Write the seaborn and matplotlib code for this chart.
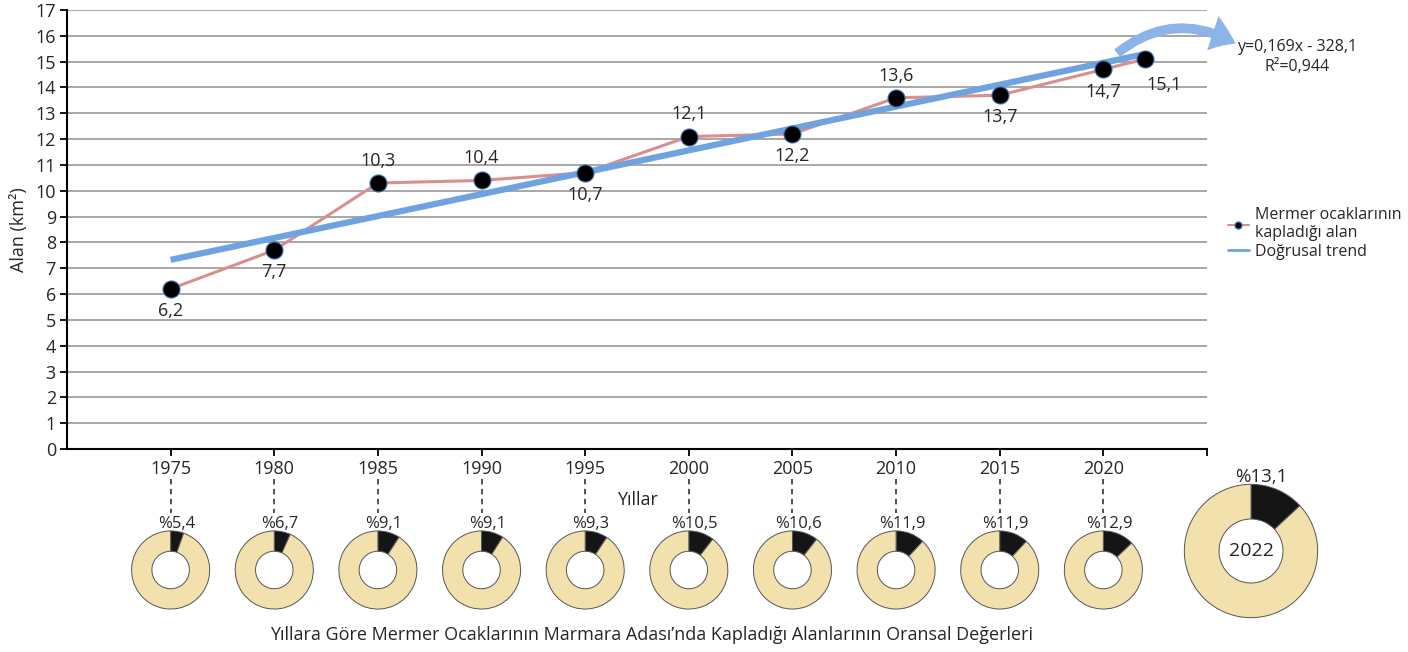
import matplotlib
matplotlib.use("Agg")
import matplotlib.pyplot as plt
import seaborn as sns
import pandas as pd
from matplotlib.lines import Line2D
from matplotlib.patches import FancyArrowPatch
from matplotlib import transforms

# data
years = [1975, 1980, 1985, 1990, 1995, 2000, 2005, 2010, 2015, 2020, 2022]
area = [6.2, 7.7, 10.3, 10.4, 10.7, 12.1, 12.2, 13.6, 13.7, 14.7, 15.1]
area_labels = ["6,2", "7,7", "10,3", "10,4", "10,7", "12,1", "12,2", "13,6", "13,7", "14,7", "15,1"]
label_above = [False, False, True, True, False, True, False, True, False, False, False]
share = [5.4, 6.7, 9.1, 9.1, 9.3, 10.5, 10.6, 11.9, 11.9, 12.9, 13.1]
share_labels = ["%5,4", "%6,7", "%9,1", "%9,1", "%9,3", "%10,5", "%10,6", "%11,9", "%11,9", "%12,9", "%13,1"]
tick_years = [1975, 1980, 1985, 1990, 1995, 2000, 2005, 2010, 2015, 2020, 2025]

df = pd.DataFrame({"Yıl": years, "Alan": area})

sns.set_style("white")
plt.rcParams["font.family"] = ["Open Sans", "DejaVu Sans"]

W, H = 1408, 652
fig = plt.figure(figsize=(W / 100, H / 100), dpi=100)
ax = fig.add_axes([67 / W, 1 - 449 / H, (1207 - 67) / W, (449 - 10) / H])

red = "#d98f8c"
blue = "#6fa3e0"
fs = 13

sns.lineplot(data=df, x="Yıl", y="Alan", color=red, lw=2.2, ax=ax, zorder=2)
sns.regplot(data=df, x="Yıl", y="Alan", scatter=False, ci=None, truncate=True,
            line_kws=dict(color=blue, lw=4.5, zorder=3, solid_capstyle="butt"), ax=ax)
sns.scatterplot(data=df, x="Yıl", y="Alan", color="black", s=150,
                edgecolor="#3a6fb0", linewidth=0.8, zorder=4, ax=ax)

for x, y, lab, up in zip(years, area, area_labels, label_above):
    if x == 2022:
        ax.annotate(lab, (x, y), xytext=(14, -19), textcoords="offset points",
                    ha="center", va="center", fontsize=fs)
    else:
        ax.annotate(lab, (x, y), xytext=(0, 16 if up else -16), textcoords="offset points",
                    ha="center", va="center", fontsize=fs)

ax.set_xlim(1970, 2025)
ax.set_ylim(0, 17)
ax.set_yticks(range(0, 18))
ax.set_xticks(tick_years)
ax.set_xticklabels([str(t) if t < 2025 else "" for t in tick_years])
ax.grid(axis="y", color="#a0a0a0", lw=1.3)
ax.grid(axis="x", visible=False)
ax.tick_params(axis="both", length=5, width=1.3, color="black", labelsize=fs, pad=3)
ax.tick_params(axis="y", left=True, direction="out")
ax.tick_params(axis="x", bottom=True, direction="out")
for s in ["top", "right"]:
    ax.spines[s].set_visible(False)
for s in ["left", "bottom"]:
    ax.spines[s].set_color("black")
    ax.spines[s].set_linewidth(1.5)
ax.set_ylabel("Alan (km²)", fontsize=fs, labelpad=5)
ax.set_xlabel("Yıllar", fontsize=fs, labelpad=9)

# legend
handles = [
    Line2D([], [], color=red, lw=1.5, marker="o", markersize=5, markerfacecolor="black",
           markeredgecolor="#3a6fb0"),
    Line2D([], [], color=blue, lw=2),
]
fig.legend(handles, ["Mermer ocaklarının\nkapladığı alan", "Doğrusal trend"],
           loc="upper left", bbox_to_anchor=(1220 / W, 1 - 199 / H), frameon=False,
           fontsize=11.5, handlelength=1.3, handletextpad=0.4, labelspacing=0.15, borderpad=0)

# trend equation with curved arrow
fig.text(1297 / W, 1 - 47 / H, "y=0,169x - 328,1", ha="center", va="center", fontsize=11.5)
fig.text(1297 / W, 1 - 67 / H, "R²=0,944", ha="center", va="center", fontsize=11.5)
arrow = FancyArrowPatch((1115 / W, 1 - 55 / H), (1238 / W, 1 - 45 / H),
                        transform=fig.transFigure, connectionstyle="arc3,rad=-0.35",
                        arrowstyle="simple,head_length=0.9,head_width=1.3,tail_width=0.35",
                        mutation_scale=20, color="#8cb4e8", lw=0)
fig.patches.append(arrow)

# dashed connectors from year labels to donuts
blend = transforms.blended_transform_factory(ax.transData, fig.transFigure)
for y in years[:-1]:
    fig.add_artist(Line2D([y, y], [1 - 479 / H, 1 - 513 / H], transform=blend,
                          color="#444444", lw=1.3, ls=(0, (3, 2.5))))

# donuts
fig.canvas.draw()


def donut(cx, cy, r, frac, label, center_text=None, lfs=12):
    dax = fig.add_axes([(cx - r - 2) / W, 1 - (cy + r + 2) / H, (2 * r + 4) / W, (2 * r + 4) / H])
    dax.pie([frac, 100 - frac], colors=["#151515", "#f2e1ad"], startangle=90,
            counterclock=False, radius=1,
            wedgeprops=dict(width=0.52, edgecolor="#555555", linewidth=0.7))
    dax.set_xlim(-1.05, 1.05)
    dax.set_ylim(-1.05, 1.05)
    dax.set_aspect("equal")
    dax.axis("off")
    dax.text(0.15, 0.98, label, ha="center", va="bottom", fontsize=lfs, clip_on=False)
    if center_text:
        dax.text(0, 0, center_text, ha="center", va="center", fontsize=14)


for y, p, lab in zip(years[:-1], share[:-1], share_labels[:-1]):
    px = ax.transData.transform((y, 0))[0]
    donut(px, 570, 39, p, lab)
donut(1251, 551, 68, share[-1], share_labels[-1], center_text=str(years[-1]), lfs=13.5)

fig.text(652 / W, 1 - 635 / H,
         "Yıllara Göre Mermer Ocaklarının Marmara Adası’nda Kapladığı Alanlarının Oransal Değerleri",
         ha="center", va="center", fontsize=13)

fig.savefig("out.png", dpi=100)
